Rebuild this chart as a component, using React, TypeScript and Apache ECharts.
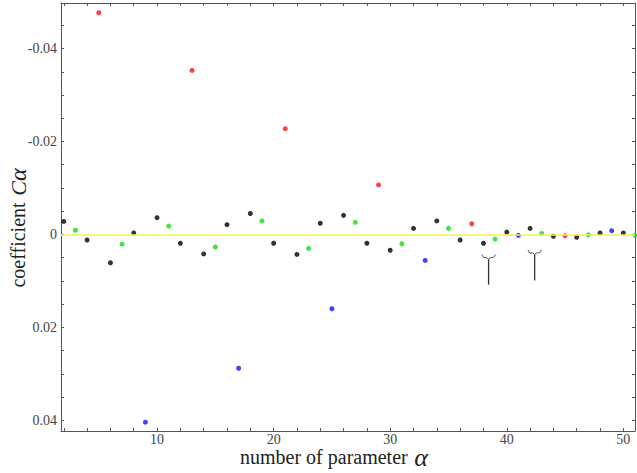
import React, { useEffect, useRef } from "react";
import * as echarts from "echarts";

// alpha indices and coefficient values, grouped by marker colour
const blackAlpha = [2, 4, 6, 8, 10, 12, 14, 16, 18, 20, 22, 24, 26, 28, 30, 32, 34, 36, 38, 40, 42, 44, 46, 48, 50];
const blackCoef = [-0.0028, 0.0012, 0.0061, -0.0003, -0.0036, 0.0019, 0.0042, -0.0021, -0.0045, 0.0019, 0.0043, -0.0024, -0.0041, 0.0019, 0.0034, -0.0013, -0.0029, 0.0012, 0.0019, -0.0005, -0.0013, 0.0004, 0.0006, -0.0003, -0.0003];
const greenAlpha = [3, 7, 11, 15, 19, 23, 27, 31, 35, 39, 43, 47, 51];
const greenCoef = [-0.0009, 0.0021, -0.0018, 0.0027, -0.0029, 0.003, -0.0026, 0.002, -0.0013, 0.001, -0.0002, 0.0001, 0.0002];
const redAlpha = [5, 13, 21, 29, 37, 45];
const redCoef = [-0.0477, -0.0353, -0.02275, -0.01065, -0.0023, 0.0003];
const blueAlpha = [9, 17, 25, 33, 41, 49];
const blueCoef = [0.0404, 0.0288, 0.016, 0.0056, 0.0002, -0.0008];

// bracket annotations
const markAlpha = [38.44, 42.39];
const markTop = [0.0048, 0.0038];
const markBottom = [0.0108, 0.0099];

// axis ticks / labels
const xLabelValues = [10, 20, 30, 40, 50];
const xTickValues = [2, 4, 6, 8, 10, 12, 14, 16, 18, 20, 22, 24, 26, 28, 30, 32, 34, 36, 38, 40, 42, 44, 46, 48, 50];
const yLabelValues = [-0.04, -0.02, 0, 0.02, 0.04];
const yTickValues = [-0.045, -0.04, -0.035, -0.03, -0.025, -0.02, -0.015, -0.01, -0.005, 0, 0.005, 0.01, 0.015, 0.02, 0.025, 0.03, 0.035, 0.04];

const X_MIN = 1.76;
const X_MAX = 51.0;
const Y_MIN = -0.0498;
const Y_MAX = 0.0423;

const FONT = "'Liberation Serif', 'DejaVu Serif', serif";
const AXIS_COLOR = "#555";

const zip = (a: number[], b: number[]) => a.map((v, i) => [v, b[i]]);

export default function App() {
  const ref = useRef<HTMLDivElement>(null);
  useEffect(() => {
    document.body.style.margin = "0";
    if (!ref.current) return;
    const chart = echarts.init(ref.current, null, { renderer: "svg" });

    const xBase = (pos: "bottom" | "top", showLabel: boolean) => ({
      type: "value",
      position: pos,
      min: X_MIN,
      max: X_MAX,
      splitLine: { show: false },
      axisLine: { show: true, onZero: false, lineStyle: { color: AXIS_COLOR, width: 1 } },
      axisTick: { show: true, inside: true, length: 3, customValues: xTickValues, lineStyle: { color: AXIS_COLOR } },
      axisLabel: {
        show: showLabel,
        customValues: xLabelValues,
        margin: 2,
        lineHeight: 13,
        fontFamily: FONT,
        fontSize: 14,
        color: "#444",
      },
    });
    const yBase = (pos: "left" | "right", showLabel: boolean) => ({
      type: "value",
      position: pos,
      inverse: true,
      min: Y_MIN,
      max: Y_MAX,
      splitLine: { show: false },
      axisLine: { show: true, onZero: false, lineStyle: { color: AXIS_COLOR, width: 1 } },
      axisTick: { show: true, inside: true, length: 3, customValues: yTickValues, lineStyle: { color: AXIS_COLOR } },
      axisLabel: {
        show: showLabel,
        customValues: yLabelValues,
        margin: 4,
        fontFamily: FONT,
        fontSize: 14,
        color: "#444",
        formatter: (v: number) => (Math.abs(v) < 1e-12 ? "0" : v.toFixed(2)),
      },
    });

    const scatter = (alpha: number[], coef: number[], color: string) => ({
      type: "scatter",
      xAxisIndex: 0,
      yAxisIndex: 0,
      symbolSize: 5,
      clip: false,
      itemStyle: { color },
      data: zip(alpha, coef),
      z: 3,
    });

    chart.setOption({
      animation: false,
      grid: { left: 61, top: 3, right: 2, bottom: 42, containLabel: false },
      xAxis: [xBase("bottom", true), xBase("top", false)],
      yAxis: [yBase("left", true), yBase("right", false)],
      series: [
        {
          type: "line",
          xAxisIndex: 0,
          yAxisIndex: 0,
          data: [],
          markLine: {
            silent: true,
            symbol: ["none", "none"],
            label: { show: false },
            lineStyle: { color: "#f2f25a", width: 1.5, type: "solid" },
            data: [{ yAxis: 0 }],
          },
        },
        scatter(blackAlpha, blackCoef, "#000000"),
        scatter(greenAlpha, greenCoef, "#11dd11"),
        scatter(redAlpha, redCoef, "#ff1010"),
        scatter(blueAlpha, blueCoef, "#1010ff"),
        {
          type: "custom",
          xAxisIndex: 0,
          yAxisIndex: 0,
          clip: false,
          data: markAlpha.map((a, i) => [a, markTop[i], markBottom[i]]),
          encode: { x: 0, y: [1, 2] },
          renderItem: (params: any, api: any) => {
            const top = api.coord([api.value(0), api.value(1)]);
            const bot = api.coord([api.value(0), api.value(2)]);
            const x = top[0];
            const y = top[1];
            return {
              type: "group",
              children: [
                {
                  type: "line",
                  shape: { x1: x, y1: y + 2.5, x2: x, y2: bot[1] },
                  style: { stroke: "#333", lineWidth: 1.3 },
                },
                {
                  type: "polyline",
                  shape: {
                    points: [
                      [x - 6.5, y - 2.2],
                      [x - 6, y - 0.2],
                      [x - 4.5, y + 0.7],
                      [x - 1.5, y + 1],
                      [x, y + 2.8],
                      [x + 1.5, y + 1],
                      [x + 4.5, y + 0.7],
                      [x + 6, y - 0.2],
                      [x + 6.5, y - 2.2],
                    ],
                  },
                  style: { stroke: "#555", fill: null, lineWidth: 1 },
                },
              ],
            };
          },
        },
      ],
      graphic: [
        {
          type: "text",
          x: 334,
          y: 457,
          style: {
            text: "{a|number of parameter}  {g|α}",
            align: "center",
            verticalAlign: "middle",
            textAlign: "center",
            textVerticalAlign: "middle",
            fill: "#222",
            rich: {
              a: { fontFamily: FONT, fontSize: 20, lineHeight: 16, fill: "#222" },
              g: { fontFamily: FONT, fontSize: 26, lineHeight: 16, fontStyle: "italic", fill: "#222" },
            },
          },
        },
        {
          type: "text",
          x: 18,
          y: 228,
          rotation: Math.PI / 2,
          style: {
            text: "{a|coefficient}  {c|C}{g|α}",
            align: "center",
            verticalAlign: "middle",
            textAlign: "center",
            textVerticalAlign: "middle",
            fill: "#222",
            rich: {
              a: { fontFamily: FONT, fontSize: 20, fill: "#222" },
              c: { fontFamily: FONT, fontSize: 22, fontStyle: "italic", fill: "#222" },
              g: { fontFamily: FONT, fontSize: 24, fontStyle: "italic", fill: "#222" },
            },
          },
        },
      ],
    });
    return () => chart.dispose();
  }, []);
  return <div ref={ref} style={{ width: 637, height: 473 }} />;
}
